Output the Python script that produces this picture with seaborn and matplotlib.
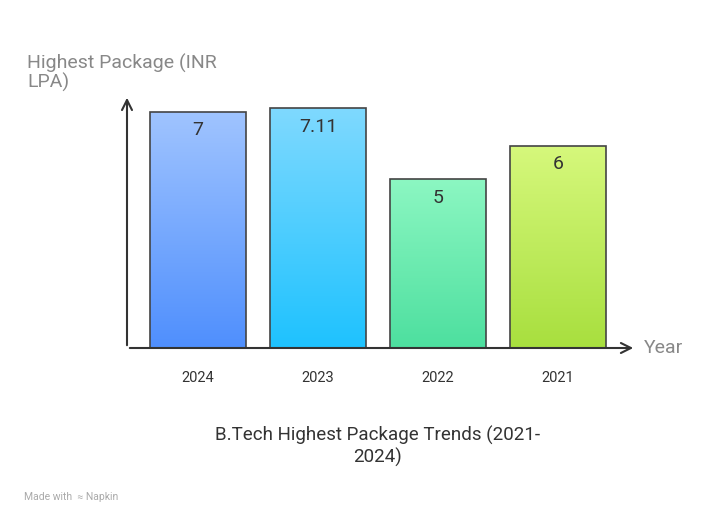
import numpy as np
import pandas as pd
import matplotlib
matplotlib.use("Agg")
import matplotlib.pyplot as plt
import seaborn as sns
from matplotlib.colors import LinearSegmentedColormap

years = ["2024", "2023", "2022", "2021"]
packages = [7, 7.11, 5, 6]
labels = ["7", "7.11", "5", "6"]
tops = ["#a0c4ff", "#7fd9ff", "#8cf7c2", "#d6f87c"]
bottoms = ["#4f8ffd", "#1ec2fe", "#4ddf9f", "#a8df3e"]

sns.set_theme(style="white")
plt.rcParams['font.family'] = ['Roboto', 'DejaVu Sans']

df = pd.DataFrame({"year": years, "pkg": packages})

fig = plt.figure(figsize=(7.14, 5.26), dpi=100)
ax = fig.add_axes([127 / 714, 178 / 526, 503 / 714, 248 / 526])
sns.barplot(data=df, x="year", y="pkg", ax=ax, width=0.8, color="white",
            edgecolor="#444444", linewidth=1.2, zorder=3)
ax.set_xlim(-0.592, 3.6)
ax.set_ylim(0, 7.35)

for i, p in enumerate(ax.patches):
    x0, y0 = p.get_x(), p.get_y()
    w, h = p.get_width(), p.get_height()
    cmap = LinearSegmentedColormap.from_list("g", [bottoms[i], tops[i]])
    grad = np.linspace(0, 1, 256).reshape(-1, 1)
    im = ax.imshow(grad, cmap=cmap, origin="lower", aspect="auto",
                   extent=[x0, x0 + w, y0, y0 + h], zorder=2)
    im.set_clip_path(p)
    p.set_facecolor("none")
    ax.text(x0 + w / 2, h - 0.55, labels[i], ha="center", va="center",
            fontsize=14, color="#333333", zorder=4)

for s in ax.spines.values():
    s.set_visible(False)
ax.set_xticks([])
ax.set_yticks([])
ax.set_xlabel("")
ax.set_ylabel("")

# axis arrows
ax.annotate("", xy=(3.65, 0), xytext=(-0.592, 0), xycoords="data",
            arrowprops=dict(arrowstyle="->", color="#333333", lw=1.5,
                            mutation_scale=18), annotation_clip=False)
ax.annotate("", xy=(-0.592, 7.5), xytext=(-0.592, 0), xycoords="data",
            arrowprops=dict(arrowstyle="->", color="#333333", lw=1.5,
                            mutation_scale=18), annotation_clip=False)

for i, y in enumerate(years):
    ax.text(i, -0.89, y, ha="center", va="center", fontsize=10.5, color="#333333")

fig.text(644 / 714, 1 - 348 / 526, "Year", ha="left", va="center",
         fontsize=14, color="#888888")
fig.text(27 / 714, 1 - 73 / 526, "Highest Package (INR\nLPA)", ha="left",
         va="center", fontsize=14, color="#888888", linespacing=1.0)
fig.text(378 / 714, 1 - 446 / 526, "B.Tech Highest Package Trends (2021-\n2024)",
         ha="center", va="center", fontsize=13.5, color="#333333", linespacing=1.2)
fig.text(24 / 714, 1 - 497 / 526, "Made with  \u2248 Napkin", ha="left", va="center",
         fontsize=7.5, color="#aaaaaa")

fig.savefig("out.png", dpi=100)
